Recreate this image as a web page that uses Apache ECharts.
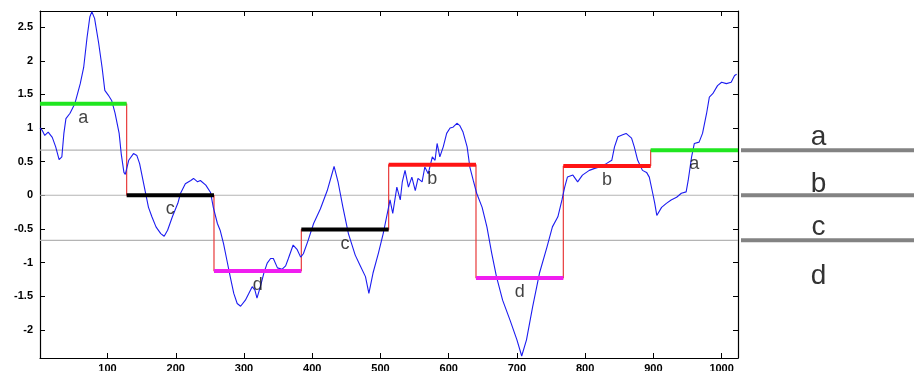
<!DOCTYPE html>
<html><head><meta charset="utf-8">
<script src="https://cdn.jsdelivr.net/npm/echarts@6/dist/echarts.min.js"></script>
<style>html,body{margin:0;padding:0;background:#fff}#c{width:914px;height:371px}</style>
</head><body><div id="c"></div><script>
// ---- data ----
const signalX = [1,4,8,13,19,24,29,33,36,39,45,52,60,65,70,74,77,81,87,92,96,101,106,111,117,120,124,126,131,138,143,147,153,160,165,171,178,183,188,195,203,207,214,222,226,232,236,244,251,255,261,265,270,275,280,285,290,295,302,307,312,316,319,324,329,334,339,343,349,356,361,365,372,378,383,387,394,402,412,422,429,432,438,445,453,463,470,478,483,489,497,504,511,514,518,524,529,532,536,541,546,551,555,561,565,570,576,580,583,587,592,597,602,606,612,616,621,627,631,636,641,649,656,663,670,679,690,700,707,714,723,733,744,752,760,766,770,774,782,789,796,806,814,821,831,839,843,848,855,860,868,872,877,884,890,894,899,902,905,912,919,926,934,941,948,951,956,960,967,972,978,982,987,994,1000,1007,1014,1019,1022];
const signalY = [1.0,0.97,0.89,0.94,0.86,0.72,0.53,0.57,0.92,1.14,1.22,1.36,1.66,1.9,2.35,2.65,2.73,2.63,2.26,1.9,1.56,1.49,1.41,1.22,0.92,0.62,0.34,0.31,0.52,0.62,0.59,0.47,0.17,-0.18,-0.32,-0.47,-0.57,-0.61,-0.52,-0.32,-0.12,0.03,0.17,0.22,0.25,0.2,0.22,0.15,0.04,-0.18,-0.42,-0.52,-0.72,-0.97,-1.22,-1.46,-1.61,-1.65,-1.56,-1.46,-1.36,-1.41,-1.53,-1.36,-1.16,-1.01,-0.94,-0.94,-1.08,-1.1,-1.05,-0.94,-0.74,-0.81,-0.92,-0.87,-0.67,-0.42,-0.2,0.07,0.32,0.43,0.19,-0.18,-0.57,-0.89,-1.04,-1.21,-1.46,-1.16,-0.86,-0.57,-0.22,-0.07,-0.27,0.12,-0.07,0.2,0.37,0.12,0.27,0.07,0.25,0.2,0.42,0.32,0.57,0.52,0.77,0.57,0.72,0.92,1.0,1.01,1.07,1.04,0.94,0.72,0.42,0.22,0.03,-0.18,-0.47,-0.86,-1.21,-1.56,-1.86,-2.15,-2.39,-2.15,-1.66,-1.16,-0.77,-0.47,-0.32,-0.07,0.12,0.27,0.3,0.2,0.3,0.37,0.4,0.42,0.47,0.52,0.72,0.87,0.9,0.92,0.85,0.72,0.52,0.37,0.34,0.27,0.03,-0.12,-0.3,-0.18,-0.12,-0.07,-0.03,0.03,0.05,0.22,0.57,0.77,0.79,0.92,1.22,1.46,1.51,1.63,1.68,1.66,1.68,1.78,1.8];
const segEdges = [1,128,256,384,512,640,768,896,1024];
const segLevels = [1.36,0,-1.125,-0.51,0.455,-1.23,0.435,0.67];
const segLetters = ['a','c','d','c','b','d','b','a'];
const breakpoints = [0.67, 0, -0.67];
const symbolNames = ['a','b','c','d'];
const symbolLabelY = [0.86, 0.16, -0.48, -1.21];
const xTickLabels = [100,200,300,400,500,600,700,800,900,1000];
const yTickLabels = [-2,-1.5,-1,-0.5,0,0.5,1,1.5,2,2.5];
const letterColors = {a:'#20e620', b:'#ff1414', c:'#000000', d:'#f01ef0'};

const X_MIN = 1, X_MAX = 1024, Y_MIN = -2.42, Y_MAX = 2.74;
const FONT = "'Liberation Sans', Arial, sans-serif";

function inList(list, v){ return list.some(t => Math.abs(t - v) < 1e-6); }

const chart = echarts.init(document.getElementById('c'), null, {renderer:'canvas'});

const axisLineStyle = {show:true, onZero:false, lineStyle:{color:'#000', width:1.2}};
const tickStyle = {show:true, inside:true, length:5, lineStyle:{color:'#000', width:1}};

const series = [];
// breakpoint lines inside the plot
breakpoints.forEach(b => series.push({
  type:'line', xAxisIndex:0, yAxisIndex:0, data:[[X_MIN,b],[X_MAX,b]],
  showSymbol:false, silent:true, z:1,
  lineStyle:{color:'#b4b4b4', width:1.2}
}));
// red step connector
const stepData = [];
for (let i = 0; i < segLevels.length; i++) {
  stepData.push([segEdges[i], segLevels[i]]);
  stepData.push([segEdges[i+1], segLevels[i]]);
}
series.push({type:'line', xAxisIndex:0, yAxisIndex:0, data:stepData, showSymbol:false, z:2,
  lineStyle:{color:'#e83a3a', width:1.2}});
// signal
series.push({type:'line', xAxisIndex:0, yAxisIndex:0,
  data: signalX.map((x,i)=>[x, signalY[i]]), showSymbol:false, z:3,
  lineStyle:{color:'#1c1cf0', width:1.1}});
// thick PAA segments
for (let i = 0; i < segLevels.length; i++) {
  series.push({type:'line', xAxisIndex:0, yAxisIndex:0,
    data:[[segEdges[i], segLevels[i]],[segEdges[i+1], segLevels[i]]],
    showSymbol:false, z:4,
    lineStyle:{color:letterColors[segLetters[i]], width:4, cap:'butt'}});
}
// segment letters
series.push({type:'scatter', xAxisIndex:0, yAxisIndex:0, z:5, symbolSize:1,
  itemStyle:{color:'rgba(0,0,0,0)'},
  data: segLevels.map((l,i)=>[(segEdges[i]+segEdges[i+1])/2, l, segLetters[i]]),
  label:{show:true, position:'inside', offset:[0,14], color:'#111', fontSize:18, fontFamily:FONT,
    formatter:p=>p.value[2]}});
// right side legend lines
breakpoints.forEach(b => series.push({
  type:'line', xAxisIndex:2, yAxisIndex:2, data:[[0,b],[1,b]],
  showSymbol:false, silent:true,
  lineStyle:{color:'#838383', width:4}
}));
series.push({type:'scatter', xAxisIndex:2, yAxisIndex:2, symbolSize:1,
  itemStyle:{color:'rgba(0,0,0,0)'},
  data: symbolNames.map((s,i)=>[0.448, symbolLabelY[i], s]),
  label:{show:true, position:'inside', color:'#000', fontSize:28, fontFamily:FONT,
    formatter:p=>p.value[2]}});

const option = {
  animation:false,
  backgroundColor:'#fff',
  grid:[
    {left:40, right:176, top:11, bottom:13, outerBoundsMode:'none', containLabel:false},
    {left:741, right:0, top:11, bottom:13, outerBoundsMode:'none', containLabel:false}
  ],
  xAxis:[
    {type:'value', gridIndex:0, position:'bottom', min:X_MIN, max:X_MAX, splitNumber:10,
     axisLine:axisLineStyle, axisTick:tickStyle, splitLine:{show:false},
     axisLabel:{show:true, margin:5, color:'#000', fontSize:11, fontWeight:'bold', fontFamily:FONT,
       showMinLabel:true, showMaxLabel:true,
       formatter:v=>inList(xTickLabels, v) ? String(v) : ''}},
    {type:'value', gridIndex:0, position:'top', min:X_MIN, max:X_MAX, splitNumber:10,
     axisLine:axisLineStyle, axisTick:tickStyle, splitLine:{show:false}, axisLabel:{show:false}},
    {type:'value', gridIndex:1, min:0, max:1, show:false}
  ],
  yAxis:[
    {type:'value', gridIndex:0, position:'left', min:Y_MIN, max:Y_MAX, splitNumber:10,
     axisLine:axisLineStyle, axisTick:tickStyle, splitLine:{show:false},
     axisLabel:{show:true, margin:7, color:'#000', fontSize:11, fontWeight:'bold', fontFamily:FONT,
       showMinLabel:true, showMaxLabel:true,
       formatter:v=>inList(yTickLabels, v) ? String(v) : ''}},
    {type:'value', gridIndex:0, position:'right', min:Y_MIN, max:Y_MAX, splitNumber:10,
     axisLine:axisLineStyle, axisTick:tickStyle, splitLine:{show:false}, axisLabel:{show:false}},
    {type:'value', gridIndex:1, min:Y_MIN, max:Y_MAX, show:false}
  ],
  series: series
};
chart.setOption(option);
</script></body></html>
